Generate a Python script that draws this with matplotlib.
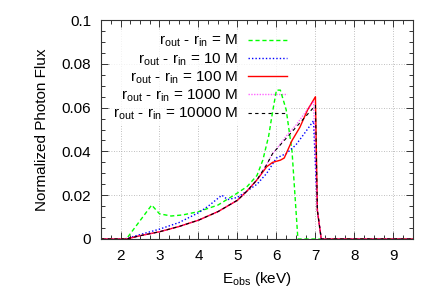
import matplotlib
matplotlib.use('Agg')
import matplotlib.pyplot as plt
import matplotlib.ticker as ticker

plt.rcParams['font.family'] = ['Liberation Sans', 'DejaVu Sans']
plt.rcParams['mathtext.default'] = 'regular'

# r_out - r_in = M
e_m = [1.5, 2.15, 2.8, 3.0, 3.3, 3.6, 4.0, 4.5, 5.0, 5.25, 5.5, 5.65, 5.8, 5.9, 6.0, 6.1, 6.25, 6.4, 6.55, 9.5]
f_m = [0, 0, 0.0155, 0.0115, 0.0105, 0.011, 0.0125, 0.0155, 0.021, 0.024, 0.029, 0.036, 0.047, 0.058, 0.068, 0.068, 0.059, 0.040, 0, 0]

# r_out - r_in = 10 M
e_10 = [1.5, 2.1, 2.5, 3.0, 3.5, 4.0, 4.25, 4.6, 4.75, 5.0, 5.25, 5.5, 5.75, 6.0, 6.25, 6.5, 6.75, 6.95, 7.05, 7.15, 9.5]
f_10 = [0, 0, 0.002, 0.0045, 0.0075, 0.012, 0.015, 0.020, 0.018, 0.019, 0.022, 0.025, 0.030, 0.037, 0.039, 0.043, 0.049, 0.054, 0.013, 0, 0]

# r_out - r_in = 100 M
e_100 = [1.5, 2.15, 2.5, 3.0, 3.5, 4.0, 4.5, 5.0, 5.25, 5.5, 5.75, 5.9, 6.0, 6.1, 6.2, 6.3, 6.4, 6.6, 6.8, 7.0, 7.05, 7.15, 9.5]
f_100 = [0, 0, 0.0015, 0.0033, 0.0057, 0.0086, 0.0125, 0.0177, 0.022, 0.027, 0.033, 0.035, 0.0355, 0.036, 0.037, 0.041, 0.045, 0.051, 0.059, 0.065, 0.013, 0, 0]

# r_out - r_in = 1000 M
e_1000 = [1.5, 2.15, 2.5, 3.0, 3.5, 4.0, 4.5, 5.0, 5.25, 5.5, 5.75, 5.9, 6.0, 6.25, 6.5, 6.75, 6.95, 7.05, 7.15, 9.5]
f_1000 = [0, 0, 0.0015, 0.0033, 0.0057, 0.0086, 0.0125, 0.0177, 0.022, 0.027, 0.034, 0.039, 0.041, 0.047, 0.052, 0.058, 0.063, 0.013, 0, 0]

# r_out - r_in = 10000 M
e_10000 = [1.5, 2.15, 2.5, 3.0, 3.5, 4.0, 4.5, 5.0, 5.25, 5.5, 5.75, 5.9, 6.0, 6.25, 6.5, 6.75, 7.0, 7.05, 7.15, 9.5]
f_10000 = [0, 0, 0.0015, 0.0033, 0.0057, 0.0086, 0.0125, 0.0177, 0.022, 0.027, 0.034, 0.039, 0.041, 0.046, 0.051, 0.056, 0.061, 0.013, 0, 0]

x_ticks = [2, 3, 4, 5, 6, 7, 8, 9]
y_ticks = [0, 0.02, 0.04, 0.06, 0.08, 0.1]
y_tick_labels = ['0', '0.02', '0.04', '0.06', '0.08', '0.1']

fig = plt.figure(figsize=(4.36, 3.05), dpi=100)
ax = fig.add_axes([0.2317, 0.2164, 0.7153, 0.7178])

ax.plot(e_m, f_m, color='#00ff00', linestyle=(0, (3, 2)), linewidth=1, label=r'r$_{out}$ - r$_{in}$ = M')
ax.plot(e_10, f_10, color='#0000ff', linestyle=(0, (1, 1.5)), linewidth=1, label=r'r$_{out}$ - r$_{in}$ = 10 M')
ax.plot(e_100, f_100, color='#ff0000', linestyle='-', linewidth=1, label=r'r$_{out}$ - r$_{in}$ = 100 M')
ax.plot(e_1000, f_1000, color='#ff00ff', linestyle=(0, (1, 1)), linewidth=1, alpha=0.6, label=r'r$_{out}$ - r$_{in}$ = 1000 M')
ax.plot(e_10000, f_10000, color='black', linestyle=(0, (3, 3)), linewidth=0.8, label=r'r$_{out}$ - r$_{in}$ = 10000 M')

ax.set_xlim(1.5, 9.5)
ax.set_ylim(0, 0.1)
ax.set_xticks(x_ticks)
ax.set_yticks(y_ticks)
ax.set_yticklabels(y_tick_labels)
ax.xaxis.set_minor_locator(ticker.MultipleLocator(0.25))
ax.yaxis.set_minor_locator(ticker.MultipleLocator(0.005))
ax.tick_params(which='both', direction='in', top=True, right=True, labelsize=11, color='#333333')
ax.tick_params(which='major', length=5, width=0.7, pad=7)
ax.tick_params(which='minor', length=3, width=0.7)
ax.grid(True, which='major', color='#aaaaaa', linestyle=(0, (1, 2)), linewidth=0.6)
ax.set_axisbelow(True)
for s in ax.spines.values():
    s.set_color('#333333')
    s.set_linewidth(0.8)

ax.set_xlabel(r'E$_{obs}$ (keV)', fontsize=11, labelpad=5)
ax.set_ylabel('Normalized Photon Flux', fontsize=11, labelpad=9)

leg = ax.legend(loc='upper right', bbox_to_anchor=(0.606, 0.955), markerfirst=False, frameon=True,
                fontsize=11, handlelength=2.55, handletextpad=0.65, labelspacing=0.12,
                borderpad=0.2, borderaxespad=0)
leg.get_frame().set_edgecolor('none')
leg.get_frame().set_facecolor('white')
leg.set_zorder(1.5)  # белый фон легенды прячет сетку, но не кривые
for t in leg.get_texts():
    t.set_ha('right')

fig.savefig('out.png', dpi=100)
plt.close(fig)
